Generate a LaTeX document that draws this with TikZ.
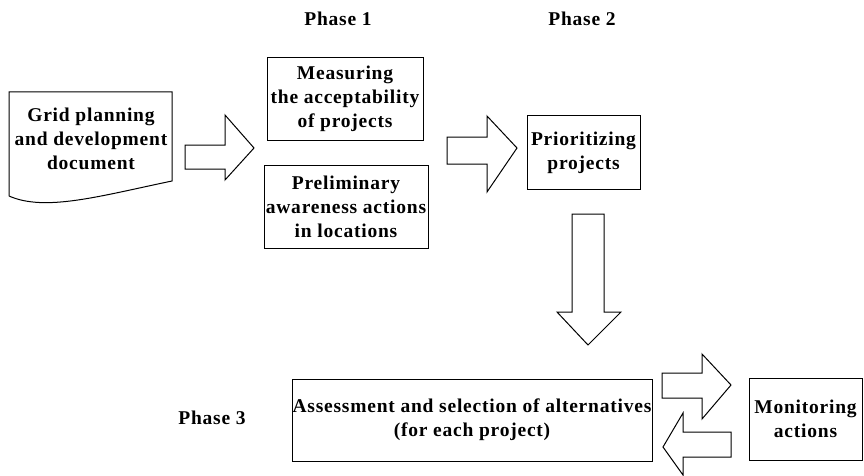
\documentclass[tikz,border=0pt]{standalone}
\usepackage{fontspec}
\setmainfont{Liberation Serif}[LetterSpace=4]
\begin{document}
\begin{tikzpicture}[x=1pt,y=-1pt,
  lbl/.style={font=\bfseries\fontsize{19.5}{24}\selectfont, align=center, inner sep=0pt},
  box/.style={draw, line width=1pt, inner sep=0pt, font=\bfseries\fontsize{19.5}{24}\selectfont, align=center},
  blockarrow/.style={draw, line width=1pt, fill=white, line join=miter}]
\useasboundingbox (0,0) rectangle (864,476);
% phase labels
\node[lbl] (ph1) at (338,19) {Phase 1};
\node[lbl] (ph2) at (582,19) {Phase 2};
\node[lbl] (ph3) at (212,418) {Phase 3};
% document shape
\coordinate (dtl) at (9,92);
\coordinate (dtr) at (172,92);
\coordinate (dbr) at (172,181);
\coordinate (dbl) at (9,196);
\draw[line width=1pt] (dbl) -- (dtl) -- (dtr) -- (dbr)
  .. controls (100,196) and (45,212) .. (dbl);
\node[lbl] (doc) at (91,139) {Grid planning\\and development\\document};
% boxes
\node[box, minimum width=156, minimum height=82] (meas) at (345,99) {Measuring\\the acceptability\\of projects};
\node[box, minimum width=164, minimum height=83] (prel) at (346,206.5) {Preliminary\\awareness actions\\in locations};
\node[box, minimum width=113, minimum height=73] (prio) at (583.5,152.5) {Prioritizing\\projects};
\node[box, minimum width=360, minimum height=82] (assess) at (472,420) {Assessment and selection of alternatives\\(for each project)};
\node[box, minimum width=113, minimum height=82] (mon) at (805.5,419) {Monitoring\\actions};
% block arrows
\draw[blockarrow] (185,145) -- (225,145) -- (225,115) -- (254,148) -- (225,180) -- (225,169) -- (185,169) -- cycle;
\draw[blockarrow] (447,137) -- (487,137) -- (487,116) -- (517,148) -- (487,192) -- (487,164) -- (447,164) -- cycle;
\draw[blockarrow] (572,214) -- (604,214) -- (604,312) -- (621,312) -- (588,345) -- (557,312) -- (572,312) -- cycle;
\draw[blockarrow] (662,373) -- (702,373) -- (702,354) -- (731,385) -- (702,419) -- (702,398) -- (662,398) -- cycle;
\draw[blockarrow] (731,432) -- (683,432) -- (683,413) -- (663,447) -- (683,475) -- (683,457) -- (731,457) -- cycle;
\end{tikzpicture}
\end{document}
